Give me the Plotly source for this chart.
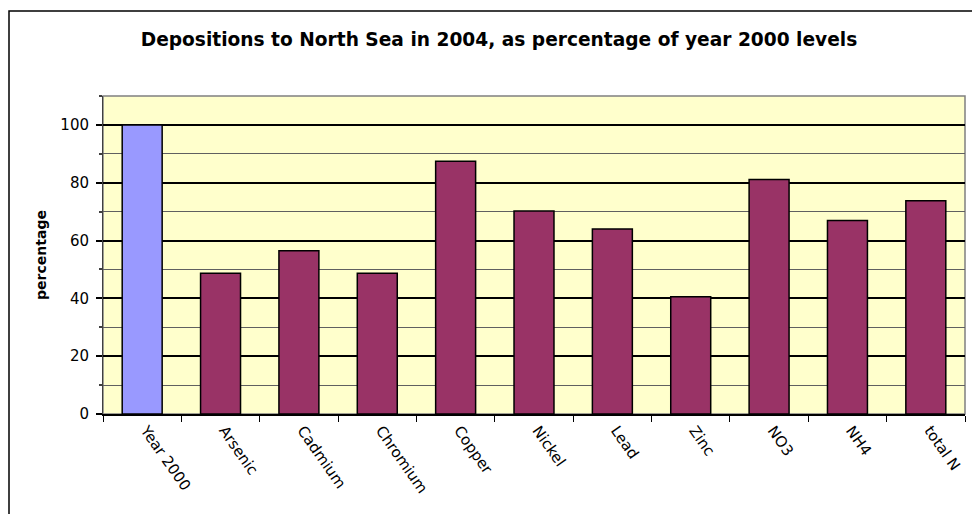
import plotly.graph_objects as go

# Deposition in 2004 relative to the year 2000 baseline (percent)
categories = ["Year 2000", "Arsenic", "Cadmium", "Chromium", "Copper", "Nickel",
              "Lead", "Zinc", "NO3", "NH4", "total N"]
percentages = [100, 48.7, 56.5, 48.7, 87.4, 70.2, 64.0, 40.6, 81.1, 66.9, 73.8]

baseline_color = "#9999FF"
element_color = "#993366"
bar_colors = [baseline_color] + [element_color] * (len(categories) - 1)

W, H = 972, 514
ML, MR, MT, MB = 103, 7, 96, 100
plot_w = W - ML - MR
plot_h = H - MT - MB

fig = go.Figure(
    go.Bar(
        x=categories,
        y=percentages,
        marker=dict(color=bar_colors, line=dict(color="black", width=1.5)),
        width=0.51,
        hoverinfo="x+y",
    )
)

font_family = "DejaVu Sans, Arial, sans-serif"

fig.update_layout(
    width=W,
    height=H,
    margin=dict(l=ML, r=MR, t=MT, b=MB),
    paper_bgcolor="white",
    plot_bgcolor="#FFFFCC",
    showlegend=False,
    font=dict(family=font_family, color="black", size=15),
    title=dict(
        text="<b>Depositions to North Sea in 2004, as percentage of year 2000 levels</b>",
        font=dict(size=18.6, family=font_family, color="black"),
        x=(143 + 855) / 2 / W,
        xanchor="center",
        xref="container",
        y=1 - 39 / H,
        yanchor="middle",
        yref="container",
    ),
    xaxis=dict(
        type="category",
        showgrid=False,
        showline=True,
        linecolor="black",
        linewidth=1.5,
        ticks="outside",
        tickson="boundaries",
        ticklen=6,
        tickcolor="black",
        tickwidth=1,
        tickangle=55,
        ticklabelshift=4,
        tickfont=dict(size=15, family=font_family, color="black"),
        range=[-0.5, len(categories) - 0.5],
        fixedrange=True,
    ),
    yaxis=dict(
        range=[0, 110],
        dtick=20,
        tick0=0,
        showgrid=True,
        gridcolor="black",
        gridwidth=2,
        showline=True,
        linecolor="#404040",
        linewidth=1,
        ticks="outside",
        ticklen=6,
        tickcolor="black",
        tickwidth=1.5,
        ticklabelstandoff=4,
        tickfont=dict(size=15, family=font_family, color="black"),
        zeroline=False,
        minor=dict(
            dtick=10,
            tick0=0,
            showgrid=True,
            gridcolor="#606060",
            gridwidth=1,
            ticks="outside",
            ticklen=3,
            tickcolor="#404040",
        ),
        title=dict(
            text="<b>percentage</b>",
            font=dict(size=14, family=font_family, color="black"),
            standoff=10,
        ),
        fixedrange=True,
    ),
    shapes=[
        # grey frame around the plot area
        dict(
            type="rect", xref="paper", yref="paper",
            x0=0, x1=1, y0=0, y1=1,
            line=dict(color="#808080", width=1.5),
            layer="below",
        ),
        # outer chart border
        dict(
            type="rect", xref="paper", yref="paper",
            x0=(9 - ML) / plot_w, x1=(W + 10 - ML) / plot_w,
            y0=-(H + 10 - (MT + plot_h)) / plot_h, y1=1 + (MT - 11) / plot_h,
            line=dict(color="black", width=1.5),
            fillcolor="rgba(0,0,0,0)",
        ),
    ],
)

fig.write_html("out.html")
